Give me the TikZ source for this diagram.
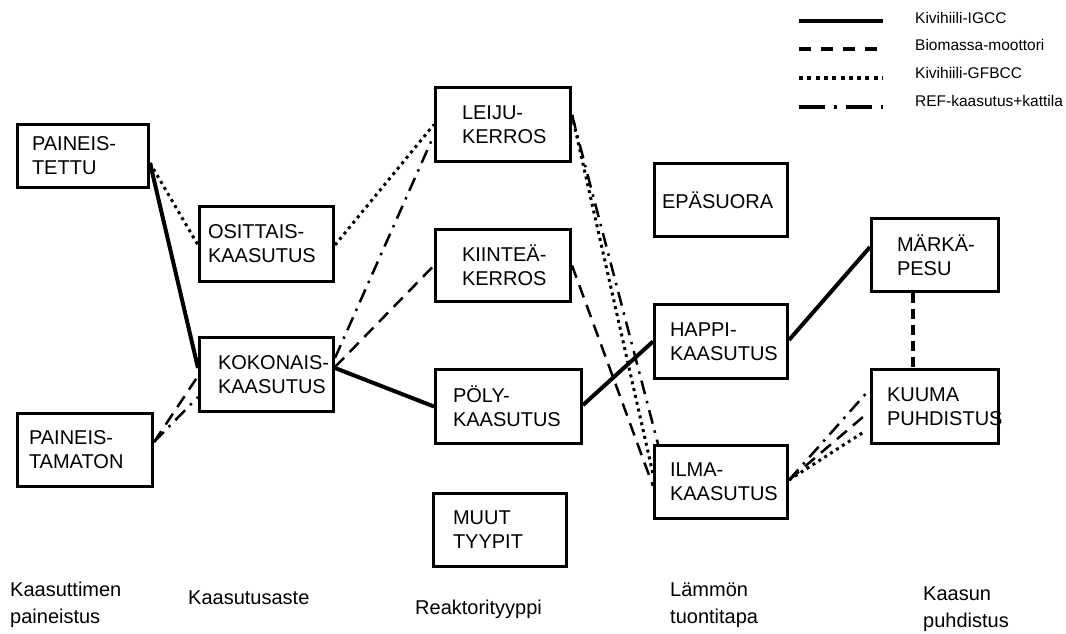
\documentclass[tikz,border=0pt]{standalone}
\usepackage{fontspec}
\setmainfont{Liberation Sans}
\usetikzlibrary{calc}
\begin{document}
\begin{tikzpicture}[x=1pt,y=-1pt,
  box/.style={draw, line width=3pt, inner xsep=0pt, inner ysep=0pt, align=left,
    font=\fontsize{20}{24}\selectfont},
  solidline/.style={line width=4pt},
  dashline/.style={line width=2.5pt, dash pattern=on 13pt off 8pt},
  dotline/.style={line width=3pt, dash pattern=on 3pt off 4pt},
  dashdotline/.style={line width=2.5pt, dash pattern=on 14pt off 7pt on 2.5pt off 7pt},
  thickdash/.style={line width=4pt, dash pattern=on 10pt off 6pt},
  legendtext/.style={anchor=base west, inner sep=0pt, font=\fontsize{15.5}{18}\selectfont},
  caption/.style={anchor=base west, inner sep=0pt, align=left, font=\fontsize{20}{27}\selectfont},
]
\useasboundingbox (0,0) rectangle (1066,633);

% ---- boxes (first lines boxed so they never break at the hyphen) ----
\node[box, minimum width=131pt, minimum height=63pt, text width=102pt] (pt) at (83,156) {\mbox{PAINEIS-}\\TETTU};
\node[box, minimum width=135pt, minimum height=73pt, text width=112pt] (pm) at (85,450) {\mbox{PAINEIS-}\\TAMATON};
\node[box, minimum width=134pt, minimum height=75pt, text width=117pt] (osittais) at (266.5,244) {\mbox{OSITTAIS-}\\KAASUTUS};
\node[box, minimum width=134pt, minimum height=74pt, text width=97pt] (kokonais) at (266.5,374.5) {\mbox{KOKONAIS-}\\KAASUTUS};
\node[box, minimum width=135pt, minimum height=74pt, text width=82pt] (leiju) at (503,124.5) {\mbox{LEIJU-}\\KERROS};
\node[box, minimum width=135pt, minimum height=72pt, text width=82pt] (kiintea) at (503,265.5) {\mbox{KIINTEÄ-}\\KERROS};
\node[box, minimum width=146pt, minimum height=74pt, text width=111pt] (poly) at (508.5,406.5) {\mbox{PÖLY-}\\KAASUTUS};
\node[box, minimum width=133pt, minimum height=73pt, text width=94pt] (muut) at (500,530) {\mbox{MUUT}\\TYYPIT};
\node[box, minimum width=133pt, minimum height=73pt, text width=118pt] (epasuora) at (721,200) {\mbox{EPÄSUORA}};
\node[box, minimum width=133pt, minimum height=74pt, text width=102pt] (happi) at (721,341.5) {\mbox{HAPPI-}\\KAASUTUS};
\node[box, minimum width=133pt, minimum height=73pt, text width=102pt] (ilma) at (721,482) {\mbox{ILMA-}\\KAASUTUS};
\node[box, minimum width=127pt, minimum height=73pt, text width=76pt] (marka) at (935,255) {\mbox{MÄRKÄ-}\\PESU};
\node[box, minimum width=127pt, minimum height=74pt, text width=96pt] (kuuma) at (935,406.5) {\mbox{KUUMA}\\\mbox{PUHDISTUS}};

% ---- connectors ----
% Kivihiili-IGCC
\draw[solidline] ($(pt.east)+(0,7)$) -- ($(kokonais.west)+(0,-6.5)$);
\draw[solidline] ($(kokonais.east)+(0,-6.5)$) -- (poly.west);
\draw[solidline] ($(poly.east)+(0,-1.5)$) -- (happi.west);
\draw[solidline] ($(happi.east)+(0,-1.5)$) -- ($(marka.west)+(0,-8)$);
% Biomassa-moottori
\draw[dashline] ($(pm.east)+(0,-8)$) -- ($(kokonais.west)+(0,1.5)$);
\draw[dashline] ($(kokonais.east)+(0,-7.5)$) -- (kiintea.west);
\draw[dashline] (kiintea.east) -- ($(ilma.west)+(0,4)$);
\draw[dashline, shorten >=6pt] ($(ilma.east)+(0,-2)$) -- ($(kuuma.west)+(0,4.5)$);
\draw[thickdash] ($(marka.south)+(-22,0)$) -- ($(kuuma.north)+(-22,0)$);
% Kivihiili-GFBCC
\draw[dotline] ($(pt.east)+(0,7)$) -- ($(osittais.west)+(0,1)$);
\draw[dotline] ($(osittais.east)+(0,1)$) -- (leiju.west);
\draw[dotline] ($(leiju.east)+(0,-9.5)$) -- ($(ilma.west)+(0,-8)$);
\draw[dotline, shorten >=7pt] ($(ilma.east)+(0,-2)$) -- ($(kuuma.west)+(0,21.5)$);
% REF-kaasutus+kattila
\draw[dashdotline] ($(pm.east)+(0,-8)$) -- ($(kokonais.west)+(0,22.5)$);
\draw[dashdotline] ($(kokonais.east)+(0,-16.5)$) -- ($(leiju.west)+(0,10.5)$);
\draw[dashdotline] ($(leiju.east)+(0,-9.5)$) -- ($(ilma.north west)+(5,0)$);
\draw[dashdotline, shorten >=5pt] ($(ilma.east)+(0,-2)$) -- ($(kuuma.west)+(0,-17.5)$);

% ---- legend ----
\coordinate (la1) at (799,21);  \coordinate (lb1) at (883,21);
\coordinate (la2) at (799,49);  \coordinate (lb2) at (883,49);
\coordinate (la3) at (799,78);  \coordinate (lb3) at (883,78);
\coordinate (la4) at (799,107); \coordinate (lb4) at (883,107);
\draw[line width=4.5pt] (la1) -- (lb1);
\draw[line width=4pt, dash pattern=on 12pt off 10pt] (la2) -- (lb2);
\draw[line width=4pt, dash pattern=on 4pt off 4.3pt] (la3) -- (lb3);
\draw[line width=4pt, dash pattern=on 26pt off 9pt on 3pt off 9pt] (la4) -- (lb4);
\node[legendtext] (t1) at (915,23) {Kivihiili-IGCC};
\node[legendtext] (t2) at (915,50) {Biomassa-moottori};
\node[legendtext] (t3) at (915,78) {Kivihiili-GFBCC};
\node[legendtext] (t4) at (915,106) {REF-kaasutus+kattila};

% ---- column captions (anchored at the baseline of the last line) ----
\node[caption] (c1) at (10,623) {Kaasuttimen\\paineistus};
\node[caption] (c2) at (188,604) {Kaasutusaste};
\node[caption] (c3) at (415,614) {Reaktorityyppi};
\node[caption] (c4) at (670,623) {Lämmön\\tuontitapa};
\node[caption] (c5) at (923,627) {Kaasun\\puhdistus};
\end{tikzpicture}
\end{document}
